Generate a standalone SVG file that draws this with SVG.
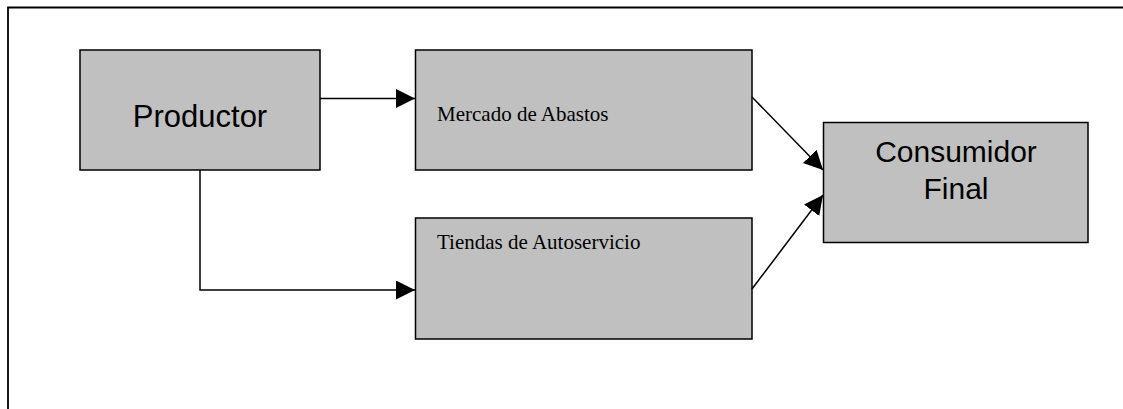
<svg xmlns="http://www.w3.org/2000/svg" width="1123" height="409" viewBox="0 0 1123 409">
<style>
.box{fill:#c0c0c0;stroke:#000;stroke-width:1.5}
.sans{font-family:"Liberation Sans",Arial,sans-serif;fill:#000}
.serif{font-family:"Liberation Serif","Times New Roman",serif;fill:#000;font-size:21px}
.conn{fill:none;stroke:#000;stroke-width:1.5}
</style>
<defs>
<marker id="arrow" markerUnits="userSpaceOnUse" markerWidth="20" markerHeight="20" refX="19" refY="9.5" orient="auto" viewBox="0 0 20 20">
<path d="M0,0 L19,9.5 L0,19 z" fill="#000"/>
</marker>
</defs>
<rect width="1123" height="409" fill="#fff"/>
<path d="M8,409 V7.5 H1123" fill="none" stroke="#000" stroke-width="1.8"/>
<g id="productor">
<rect class="box" x="80" y="50" width="240" height="120"/>
<text class="sans" x="200" y="127" font-size="31" text-anchor="middle">Productor</text>
</g>
<g id="mercado">
<rect class="box" x="415.5" y="50" width="336.5" height="120"/>
<text class="serif" x="437" y="121">Mercado de Abastos</text>
</g>
<g id="tiendas">
<rect class="box" x="415.5" y="218" width="336.5" height="121"/>
<text class="serif" x="437" y="249">Tiendas de Autoservicio</text>
</g>
<g id="consumidor">
<rect class="box" x="823.5" y="122.5" width="264.5" height="120"/>
<text class="sans" x="956" y="161.5" font-size="30" text-anchor="middle">Consumidor</text>
<text class="sans" x="956" y="199" font-size="30" text-anchor="middle">Final</text>
</g>
<g id="connectors">
<path class="conn" d="M320,98.5 H415" marker-end="url(#arrow)"/>
<path class="conn" d="M200,170 V290 H415" marker-end="url(#arrow)"/>
<path class="conn" d="M752,97 L823,170" marker-end="url(#arrow)"/>
<path class="conn" d="M752,289 L823,195" marker-end="url(#arrow)"/>
</g>
</svg>
